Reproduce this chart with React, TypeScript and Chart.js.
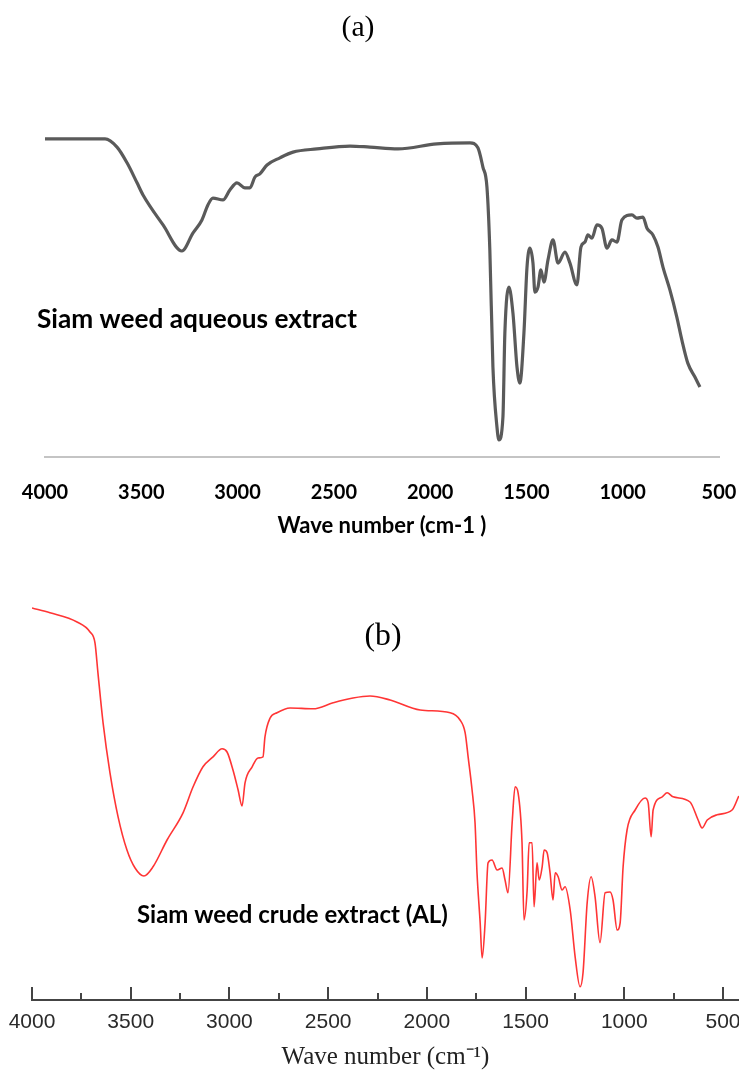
import React, { useEffect, useRef } from "react";
import { Chart, registerables } from "chart.js";

Chart.register(...registerables);

// ---------- Panel (a): Siam weed aqueous extract ----------
const WAVE_A = [
  4000, 3688, 3626, 3574, 3522, 3491, 3387, 3289, 3232, 3185, 3154, 3128, 3076, 3040, 3003, 2962,
  2936, 2910, 2884, 2847, 2780, 2712, 2588, 2416, 2313, 2167, 1965, 1793, 1752, 1726, 1705, 1690,
  1674, 1653, 1643, 1622, 1612, 1591, 1570, 1549, 1534, 1513, 1497, 1482, 1466, 1456, 1440, 1425,
  1409, 1388, 1362, 1336, 1300, 1274, 1238, 1217, 1196, 1181, 1160, 1134, 1108, 1082, 1056, 1030,
  1004, 952, 926, 895, 874, 843, 817, 791, 755, 719, 693, 662, 625, 599,
];
const TRANS_A = [
  89.1, 89.1, 86.8, 82.4, 76.8, 73.4, 65.0, 57.7, 62.7, 66.4, 70.6, 72.5, 72.0, 74.8, 76.8, 75.4,
  75.4, 78.4, 79.3, 81.8, 83.8, 85.4, 86.3, 87.1, 86.8, 86.3, 87.7, 88.0, 86.6, 81.2, 75.6, 58.0,
  25.2, 8.4, 4.8, 11.2, 34.7, 47.6, 40.3, 25.2, 20.7, 34.7, 53.2, 58.5, 54.3, 46.2, 47.6, 52.4,
  49.0, 55.2, 60.8, 54.3, 57.4, 54.3, 48.2, 58.8, 60.2, 62.2, 61.3, 65.0, 64.1, 58.5, 60.8, 60.2,
  66.4, 67.8, 66.9, 67.2, 64.1, 62.2, 58.8, 53.2, 46.8, 39.2, 32.8, 26.3, 22.4, 19.6,
];

// ---------- Panel (b): Siam weed crude extract (AL) ----------
const WAVE_B = [
  4000, 3909, 3772, 3706, 3681, 3666, 3640, 3605, 3564, 3519, 3478, 3433, 3387, 3316, 3235, 3184,
  3134, 3083, 3037, 3012, 2982, 2956, 2936, 2921, 2885, 2855, 2830, 2820, 2794, 2759, 2693, 2576,
  2475, 2374, 2288, 2186, 2034, 1882, 1832, 1806, 1791, 1771, 1756, 1746, 1730, 1720, 1705, 1690,
  1670, 1644, 1619, 1604, 1589, 1568, 1553, 1538, 1518, 1508, 1492, 1482, 1467, 1457, 1442, 1431,
  1416, 1406, 1391, 1376, 1361, 1350, 1335, 1315, 1300, 1274, 1249, 1224, 1209, 1188, 1168, 1148,
  1123, 1097, 1072, 1057, 1036, 1021, 1006, 986, 945, 895, 879, 864, 854, 808, 783, 753,
  667, 626, 606, 580, 530, 454, 420,
];
const TRANS_B = [
  98.0, 96.8, 94.5, 92.0, 89.3, 81.8, 69.3, 56.8, 45.8, 37.5, 33.0, 31.0, 33.3, 40.0, 46.8, 53.3,
  58.3, 60.8, 62.8, 62.0, 57.5, 52.5, 48.5, 54.3, 58.3, 60.5, 60.8, 65.8, 70.5, 71.8, 73.0, 72.8,
  74.3, 75.5, 76.0, 75.0, 72.5, 71.8, 70.0, 66.8, 60.8, 52.5, 44.3, 31.8, 19.3, 10.5, 19.3, 34.3,
  35.0, 32.5, 33.0, 30.0, 26.8, 44.3, 53.3, 51.8, 39.3, 20.0, 27.5, 39.3, 39.3, 23.3, 34.3, 30.0,
  33.3, 37.5, 36.8, 31.8, 25.0, 31.8, 30.8, 27.5, 28.3, 22.5, 10.8, 3.3, 6.8, 24.3, 30.8, 25.8,
  14.3, 26.8, 27.0, 25.0, 17.5, 19.3, 33.3, 42.5, 47.5, 50.5, 49.3, 40.8, 47.5, 50.8, 51.8, 50.8,
  49.5, 45.0, 43.0, 45.0, 46.3, 47.5, 51.0,
];

const TICKS = [4000, 3500, 3000, 2500, 2000, 1500, 1000, 500];
const MINOR_TICKS_B = [3750, 3250, 2750, 2250, 1750, 1250, 750];

const PANEL_A = "(a)";
const PANEL_B = "(b)";
const LABEL_A = "Siam weed aqueous extract";
const LABEL_B = "Siam weed crude extract (AL)";
const XTITLE_A = "Wave number (cm-1 )";
const XTITLE_B = "Wave number (cm\u207B\u00B9)";

function fitText(
  ctx: CanvasRenderingContext2D,
  text: string,
  family: string,
  weight: string,
  targetWidth: number
) {
  ctx.font = `${weight} 100px ${family}`;
  const w = ctx.measureText(text).width;
  const size = (100 * targetWidth) / w;
  ctx.font = `${weight} ${size}px ${family}`;
}

function drawLabel(
  ctx: CanvasRenderingContext2D,
  text: string,
  family: string,
  weight: string,
  width: number,
  x: number,
  y: number,
  align: CanvasTextAlign,
  color: string
) {
  ctx.save();
  fitText(ctx, text, family, weight, width);
  ctx.fillStyle = color;
  ctx.textAlign = align;
  ctx.textBaseline = "middle";
  ctx.fillText(text, x, y);
  ctx.restore();
}

export default function App() {
  const refA = useRef<HTMLCanvasElement | null>(null);
  const refB = useRef<HTMLCanvasElement | null>(null);

  useEffect(() => {
    if (!refA.current || !refB.current) return;

    const labelsA = {
      id: "labelsA",
      afterDraw(chart: any) {
        const ctx = chart.ctx as CanvasRenderingContext2D;
        drawLabel(ctx, PANEL_A, "'Liberation Serif', 'Times New Roman', serif", "normal", 33, 358, 28, "center", "#000");
        drawLabel(ctx, LABEL_A, "Lato, 'Open Sans', sans-serif", "bold", 320, 37, 320, "left", "#000");
      },
    };

    const chartA = new Chart(refA.current, {
      type: "line",
      data: {
        datasets: [
          {
            data: WAVE_A.map((x, i) => ({ x, y: TRANS_A[i] })),
            borderColor: "#5a5a5a",
            borderWidth: 3.2,
            pointRadius: 0,
            fill: false,
            cubicInterpolationMode: "monotone",
          },
        ],
      },
      options: {
        animation: false,
        responsive: false,
        maintainAspectRatio: false,
        layout: { padding: { left: 45, right: 20, top: 100, bottom: 21 } },
        plugins: { legend: { display: false }, tooltip: { enabled: false } },
        scales: {
          x: {
            type: "linear",
            reverse: true,
            min: 500,
            max: 4000,
            afterBuildTicks: (s: any) => {
              s.ticks = TICKS.map((v) => ({ value: v }));
            },
            afterFit: (s: any) => {
              s.height = 82;
              s.paddingLeft = 0;
              s.paddingRight = 0;
            },
            grid: { display: false, drawTicks: false },
            border: { display: true, color: "#c4c4c4", width: 2 },
            ticks: {
              autoSkip: false,
              maxRotation: 0,
              padding: 24,
              color: "#000",
              font: { family: "Lato, 'Open Sans', sans-serif", weight: "bold", size: 20 },
              callback: (v: any) => String(v),
            },
            title: {
              display: true,
              text: XTITLE_A,
              color: "#000",
              padding: 0,
              font: { family: "Lato, 'Open Sans', sans-serif", weight: "bold", size: 22 },
            },
          },
          y: { display: false, min: 0, max: 100 },
        },
      },
      plugins: [labelsA],
    } as any);

    const labelsB = {
      id: "labelsB",
      afterDraw(chart: any) {
        const ctx = chart.ctx as CanvasRenderingContext2D;
        const xs = chart.scales.x;
        const bottom = chart.chartArea.bottom;
        ctx.save();
        ctx.strokeStyle = "#444";
        ctx.lineWidth = 2;
        ctx.beginPath();
        TICKS.forEach((v) => {
          const px = Math.round(xs.getPixelForValue(v));
          ctx.moveTo(px, bottom);
          ctx.lineTo(px, bottom - 13);
        });
        MINOR_TICKS_B.forEach((v) => {
          const px = Math.round(xs.getPixelForValue(v));
          ctx.moveTo(px, bottom);
          ctx.lineTo(px, bottom - 7);
        });
        ctx.stroke();
        ctx.restore();
        drawLabel(ctx, PANEL_B, "'Liberation Serif', 'Times New Roman', serif", "normal", 37, 383, 77, "center", "#000");
        drawLabel(ctx, LABEL_B, "Lato, 'Open Sans', sans-serif", "bold", 311, 137, 355, "left", "#000");
      },
    };

    const chartB = new Chart(refB.current, {
      type: "line",
      data: {
        datasets: [
          {
            data: WAVE_B.map((x, i) => ({ x, y: TRANS_B[i] })),
            borderColor: "#ff3535",
            borderWidth: 1.6,
            pointRadius: 0,
            fill: false,
            cubicInterpolationMode: "monotone",
          },
        ],
      },
      options: {
        animation: false,
        responsive: false,
        maintainAspectRatio: false,
        layout: { padding: { left: 32, right: 0, top: 40, bottom: 2 } },
        plugins: { legend: { display: false }, tooltip: { enabled: false } },
        scales: {
          x: {
            type: "linear",
            reverse: true,
            min: 419,
            max: 4000,
            afterBuildTicks: (s: any) => {
              s.ticks = TICKS.map((v) => ({ value: v }));
            },
            afterFit: (s: any) => {
              s.height = 72;
              s.paddingLeft = 0;
              s.paddingRight = 0;
            },
            grid: { display: false, drawTicks: false },
            border: { display: true, color: "#444", width: 2 },
            ticks: {
              autoSkip: false,
              maxRotation: 0,
              padding: 10,
              color: "#2a2a2a",
              font: { family: "'Liberation Sans', Arial, sans-serif", size: 21 },
              callback: (v: any) => String(v),
            },
            title: {
              display: true,
              text: XTITLE_B,
              color: "#222",
              padding: 0,
              font: { family: "'Liberation Serif', 'Times New Roman', serif", size: 25 },
            },
          },
          y: { display: false, min: 0, max: 100 },
        },
      },
      plugins: [labelsB],
    } as any);

    return () => {
      chartA.destroy();
      chartB.destroy();
    };
  }, []);

  return (
    <div
      style={{
        position: "absolute",
        left: 0,
        top: 0,
        width: 739,
        height: 1074,
        background: "#fff",
        overflow: "hidden",
      }}
    >
      <canvas
        ref={refA}
        width={739}
        height={560}
        style={{ position: "absolute", left: 0, top: 0, width: 739, height: 560, display: "block" }}
      />
      <canvas
        ref={refB}
        width={739}
        height={514}
        style={{ position: "absolute", left: 0, top: 560, width: 739, height: 514, display: "block" }}
      />
    </div>
  );
}
